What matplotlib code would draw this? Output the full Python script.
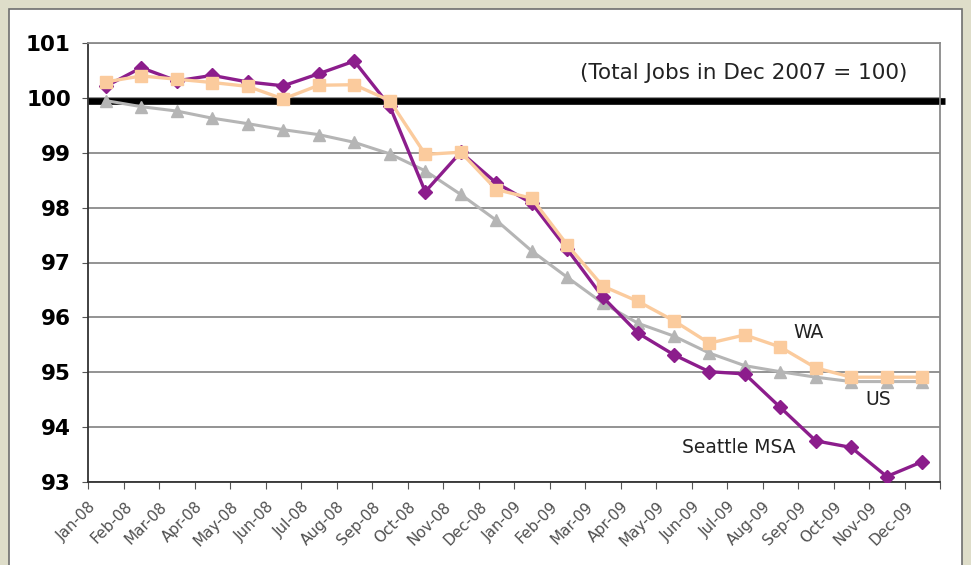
import matplotlib
matplotlib.use('Agg')
import matplotlib.pyplot as plt
import matplotlib.transforms as mtransforms
from matplotlib.patches import Rectangle

months=['Jan-08','Feb-08','Mar-08','Apr-08','May-08','Jun-08','Jul-08','Aug-08','Sep-08','Oct-08','Nov-08','Dec-08',
        'Jan-09','Feb-09','Mar-09','Apr-09','May-09','Jun-09','Jul-09','Aug-09','Sep-09','Oct-09','Nov-09','Dec-09']
seattle=[100.21,100.55,100.31,100.41,100.29,100.22,100.44,100.67,99.85,98.29,99.01,98.45,
         98.08,97.24,96.37,95.71,95.32,95.01,94.97,94.36,93.75,93.63,93.10,93.37]
wa=[100.29,100.40,100.34,100.28,100.21,99.98,100.23,100.24,99.95,98.97,99.01,98.33,
    98.17,97.32,96.57,96.29,95.94,95.53,95.68,95.46,95.08,94.91,94.91,94.91]
us=[99.95,99.84,99.76,99.63,99.53,99.42,99.33,99.19,98.98,98.67,98.24,97.77,
    97.21,96.73,96.26,95.89,95.66,95.35,95.12,95.01,94.91,94.83,94.83,94.83]
base=99.94
yticks=[93,94,95,96,97,98,99,100,101]

fig=plt.figure(figsize=(9.71,5.65),dpi=100)
fig.patch.set_facecolor('#deddc9')
# white panel behind the chart
fig.patches.append(Rectangle((9/971,-0.05),953/971,1.05-9/565,transform=fig.transFigure,
                             facecolor='white',edgecolor='#6e6e6e',linewidth=1.2,zorder=-5))

ax=fig.add_axes([88/971,1-482/565,852/971,439/565])
ax.set_facecolor('white')
x=[i+0.5 for i in range(len(months))]

for y in yticks:
    ax.axhline(y,color='#8a8a8a',lw=1.3,zorder=1)
ax.plot([0,24.15],[base,base],color='black',lw=4.8,solid_capstyle='butt',clip_on=False,zorder=2)

ax.plot(x,us,color='#b5b5b5',lw=2.2,marker='^',ms=9,zorder=3)
ax.plot(x,seattle,color='#8c1d8c',lw=2.4,marker='D',ms=7,zorder=4)
ax.plot(x,wa,color='#fbcb9d',lw=2.4,marker='s',ms=8,zorder=5)

ax.set_xlim(0,24)
ax.set_ylim(93,101)
ax.set_yticks(yticks)
ax.set_yticklabels([str(v) for v in yticks],fontsize=15.5,fontweight='bold',color='black')
ax.set_xticks(range(25))
ax.set_xticklabels(months+[''],rotation=45,ha='right',va='center',rotation_mode='anchor',fontsize=11,color='#505050')
ax.tick_params(axis='x',direction='out',length=5,color='#555555',pad=4)
ax.tick_params(axis='y',direction='out',length=4.3,color='#555555',pad=8)
shift=mtransforms.ScaledTranslation(6/100,-10/100,fig.dpi_scale_trans)
for lab in ax.get_xticklabels():
    lab.set_transform(lab.get_transform()+shift)
for s in ['left','bottom']:
    ax.spines[s].set_color('#333333')
    ax.spines[s].set_linewidth(1.3)
for s in ['top','right']:
    ax.spines[s].set_color('#8a8a8a')
    ax.spines[s].set_linewidth(1.3)

ax.text(23.07,100.45,'(Total Jobs in Dec 2007 = 100)',fontsize=15.5,color='#222222',ha='right',va='center')
ax.text(20.3,95.72,'WA',fontsize=13.5,color='#222222',ha='center',va='center')
ax.text(22.25,94.5,'US',fontsize=13.5,color='#222222',ha='center',va='center')
ax.text(18.34,93.63,'Seattle MSA',fontsize=13.5,color='#222222',ha='center',va='center')

fig.savefig('out.png',dpi=100,facecolor=fig.get_facecolor())
